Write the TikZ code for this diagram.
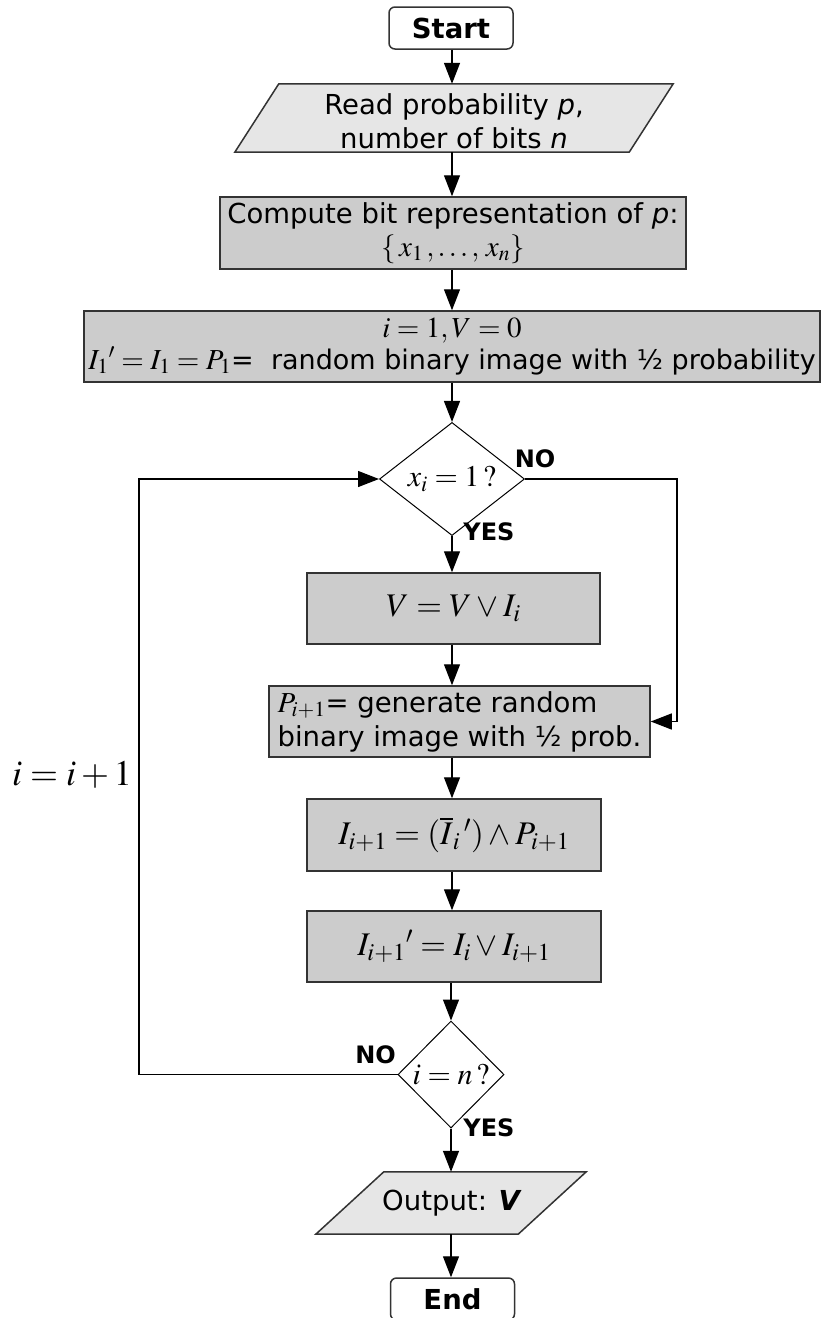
\documentclass[tikz,border=0pt]{standalone}
\usepackage{mathptmx}
\usepackage{fontspec}
\setmainfont{DejaVu Sans}
\usetikzlibrary{arrows.meta,shapes.geometric,calc}

\definecolor{boxgray}{HTML}{CCCCCC}
\definecolor{iogray}{HTML}{E6E6E6}
\definecolor{edgegray}{HTML}{333333}

% math set a little larger than the surrounding sans text
\newcommand{\mymath}[1]{{\fontsize{29}{29}\selectfont$#1$}}

\begin{document}
\begin{tikzpicture}[x=1pt,y=-1pt,
  every node/.style={font=\fontsize{27.5}{34}\selectfont},
  proc/.style={draw=edgegray, line width=1.5pt, fill=boxgray, inner sep=0pt, align=center},
  mathproc/.style={proc, font=\fontsize{33}{36}\selectfont},
  term/.style={draw=edgegray, line width=1.5pt, fill=white, rounded corners=6pt,
    inner sep=0pt, minimum width=124pt, minimum height=42pt,
    font=\fontsize{27.5}{31}\selectfont\bfseries},
  iohold/.style={inner sep=0pt, draw=none},
  iofill/.style={draw=edgegray, line width=1.5pt, fill=iogray},
  decide/.style={diamond, draw=black, line width=1pt, fill=white, inner sep=0pt,
    font=\fontsize{30}{30}\selectfont},
  lbl/.style={font=\fontsize{24}{24}\selectfont\bfseries, inner sep=0pt},
  arr/.style={draw=black, line width=1.3pt, -{Triangle[length=21pt,width=16pt]}}
]
% canvas
\fill[white] (0,0) rectangle (821,1318);
\useasboundingbox (0,0) rectangle (821,1318);

% vertical spine of the main flow and the two side return lines
\coordinate (spine) at (452,0);
\coordinate (loopx) at (139,0);
\coordinate (bypass) at (677,0);

% terminals and steps
\node[term] (start) at (451,28) {Start};

\node[iohold, minimum width=438pt, minimum height=68pt] (read) at (454,118) {};
\filldraw[iofill] ([xshift=44pt]read.north west) -- (read.north east)
  -- ([xshift=-44pt]read.south east) -- (read.south west) -- cycle;
\node[align=center, inner sep=0pt] (readtext) at (454,121)
  {Read probability \textit{p},\\number of bits \textit{n}};

\node[proc, minimum width=466pt, minimum height=72pt, font=\fontsize{27.5}{33}\selectfont] (comp) at (453,233)
  {Compute bit representation of \textit{p}:\\\mymath{\{\,x_1\,,\ldots,\,x_n\}}};

\node[proc, minimum width=736pt, minimum height=71pt, font=\fontsize{27}{32}\selectfont] (init) at (452,346.5)
  {\mymath{i=1, V=0}\\\mymath{I_1{}'=I_1=P_1}=\ \ random binary image with ½ probability};

\node[decide, minimum width=145pt, minimum height=105pt] (dec1) at (452,479) {$x_i=1\,?$};

\node[mathproc, minimum width=293pt, minimum height=71pt] (vbox) at (453.5,608.5) {$V=V\vee I_i$};

\node[proc, minimum width=381pt, minimum height=71pt, align=left] (pbox) at (459.5,721.5)
  {\mymath{P_{i+1}}= generate random\\binary image with ½ prob.};

\node[mathproc, minimum width=294pt, minimum height=72pt] (ibox) at (454,835)
  {$I_{i+1}=(\overline{I}_i\,{}')\wedge P_{i+1}$};

\node[mathproc, minimum width=294pt, minimum height=71pt] (ipbox) at (454,946.5)
  {$I_{i+1}{}'=I_i\vee I_{i+1}$};

\node[decide, minimum width=106pt, minimum height=107pt] (dec2) at (451,1074.5) {$i=n\,?$};

\node[iohold, minimum width=270pt, minimum height=62pt] (out) at (451,1203) {};
\filldraw[iofill] ([xshift=68pt]out.north west) -- (out.north east)
  -- ([xshift=-68pt]out.south east) -- (out.south west) -- cycle;
\node[inner sep=0pt] (outtext) at (452,1203) {Output: \textbf{\textit{V}}};

\node[term] (end) at (452.5,1299) {End};

% branch labels
\node[lbl] (no1) at (535,459) {NO};
\node[lbl] (yes1) at (489,531.5) {YES};
\node[lbl] (no2) at (375.5,1055) {NO};
\node[lbl] (yes2) at (489,1127.5) {YES};
\node[font=\fontsize{36}{36}\selectfont, inner sep=0pt] (incr) at (72,775) {$i=i+1$};

% main flow
\draw[arr] (start.south -| spine) -- (read.north -| spine);
\draw[arr] (read.south -| spine) -- (comp.north -| spine);
\draw[arr] (comp.south -| spine) -- (init.north -| spine);
\draw[arr] (init.south -| dec1.north) -- (dec1.north);
\draw[arr] (dec1.south) -- (vbox.north -| dec1.south);
\draw[arr] (vbox.south -| spine) -- (pbox.north -| spine);
\draw[arr] (pbox.south -| spine) -- (ibox.north -| spine);
\draw[arr] (ibox.south -| spine) -- (ipbox.north -| spine);
\draw[arr] (ipbox.south -| dec2.north) -- (dec2.north);
\draw[arr] (dec2.south) -- (out.north -| dec2.south);
\draw[arr] (out.south -| dec2.south) -- (end.north -| dec2.south);

% NO branch of the bit test skips the OR step
\draw[arr] (dec1.east) -- (dec1.east -| bypass) -- (pbox.east -| bypass) -- (pbox.east);

% NO branch of the end test loops back
\draw[arr] (dec2.west) -- (dec2.west -| loopx) -- (dec1.west -| loopx) -- (dec1.west);
\end{tikzpicture}
\end{document}
